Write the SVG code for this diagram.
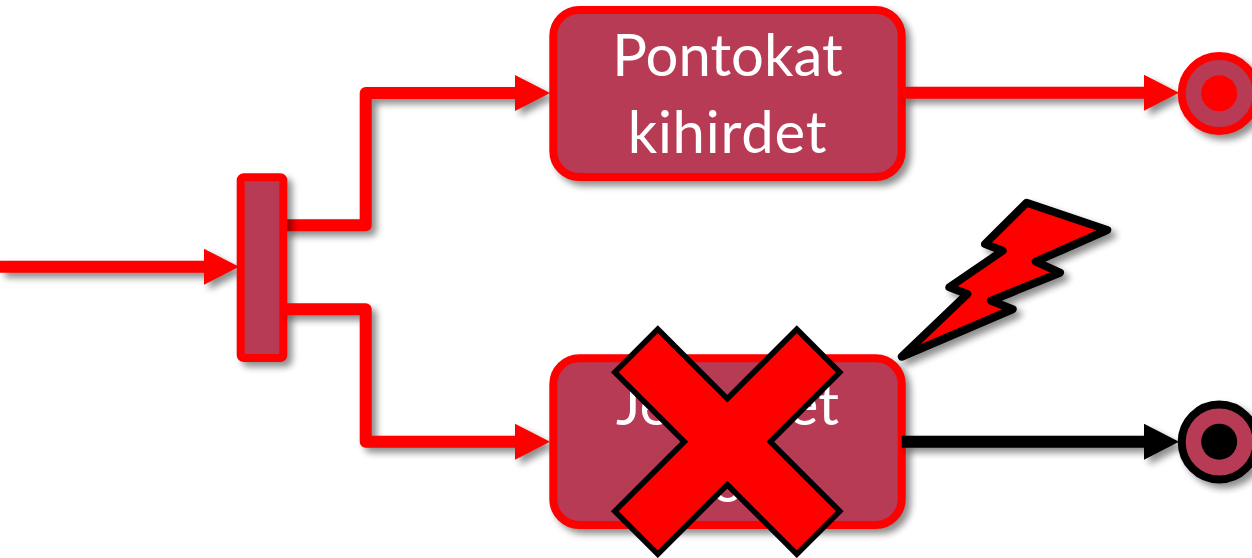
<svg xmlns="http://www.w3.org/2000/svg" width="1252" height="558" viewBox="0 0 1252 558">
<style>
.box{fill:#b83b55;stroke:#f00;stroke-width:8}
.dot{fill:#f00}
.blk{fill:#000}
.ln{fill:none;stroke:#f00;stroke-width:12;stroke-linejoin:round}
.lb{fill:none;stroke:#000;stroke-width:12}
.s{filter:url(#sh)}
text{font-family:Lato,"Open Sans",sans-serif;font-size:58px;fill:#fff;text-anchor:middle}
</style>
<defs>
<filter id="sh" filterUnits="userSpaceOnUse" x="-20" y="-20" width="1300" height="600" color-interpolation-filters="sRGB">
<feGaussianBlur in="SourceAlpha" stdDeviation="3.5"/>
<feOffset dx="5" dy="5"/>
<feComponentTransfer><feFuncA type="linear" slope="0.45"/></feComponentTransfer>
<feMerge><feMergeNode/><feMergeNode in="SourceGraphic"/></feMerge>
</filter>
<marker id="ar" markerUnits="userSpaceOnUse" markerWidth="36" markerHeight="38" refX="1" refY="19" orient="auto"><path d="M0 1L35 19L0 37Z" fill="#f00"/></marker>
<marker id="ab" markerUnits="userSpaceOnUse" markerWidth="36" markerHeight="38" refX="1" refY="19" orient="auto"><path d="M0 1L35 19L0 37Z" fill="#000"/></marker>
</defs>
<g id="connectors-back">
<path class="ln s" marker-end="url(#ar)" d="M0 266.700H205"/>
<path class="ln s" marker-end="url(#ar)" d="M283 225.300H365.700V93H516"/>
</g>
<g id="fork"><rect class="box s" x="240.700" y="177.300" width="42.600" height="180.700" rx="3"/></g>
<g id="connector-lower"><path class="ln s" marker-end="url(#ar)" d="M283 309.300H365.700V441.700H516"/></g>
<g id="node-pontokat">
<rect class="box s" x="553.300" y="10" width="348.400" height="167" rx="26"/>
<text x="727.500" y="76">Pontokat</text>
<text x="727.500" y="153" letter-spacing="0.8">kihirdet</text>
</g>
<g id="node-jegyeket">
<rect class="box s" x="553.300" y="358.300" width="348.400" height="166.700" rx="26"/>
<text x="727.500" y="425">Jegyeket</text>
<text x="727.500" y="502">o</text>
</g>
<g id="connectors-out">
<path class="ln s" marker-end="url(#ar)" d="M901.700 92.700H1145"/>
<path class="lb s" marker-end="url(#ab)" d="M901.700 441.700H1145"/>
</g>
<g id="end-top">
<circle class="box s" cx="1219.200" cy="93.500" r="37.500"/>
<circle class="dot" cx="1219.200" cy="93.300" r="18"/>
</g>
<g id="end-bottom">
<circle cx="1219.200" cy="442" r="37.500" fill="#b83b55" stroke="#000" stroke-width="8" class="s"/>
<circle class="blk" cx="1219.200" cy="441.700" r="18"/>
</g>
<g id="bolt"><path class="s" fill="#f00" stroke="#000" stroke-width="8" stroke-linejoin="round" d="M1026.700 202.700L1107.300 230L1035.700 261.700L1060 272.700L991 300.700L1012.700 309.300L901.700 356.700L967.300 294L949.300 287.300L1002.700 250.700L985 244Z"/></g>
<g id="cross"><path fill="#f00" stroke="#000" stroke-width="5.500" stroke-linejoin="miter" transform="translate(727.300 441.700)" d="M0-43L69.500-112.500L112.500-69.500L43 0L112.500 69.500L69.500 112.500L0 43L-69.500 112.500L-112.500 69.500L-43 0L-112.500-69.500L-69.500-112.500Z"/></g>
</svg>
